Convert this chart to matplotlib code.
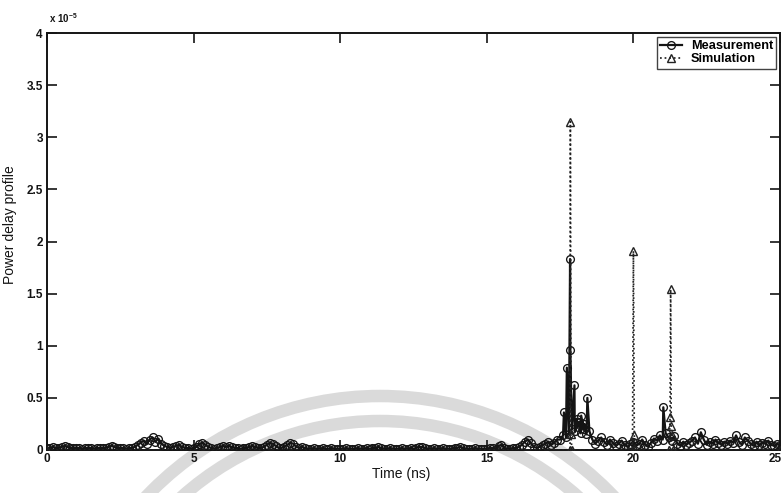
import numpy as np
import matplotlib
matplotlib.use("Agg")
import matplotlib.pyplot as plt
from matplotlib.patches import Arc
from matplotlib.transforms import ScaledTranslation

plt.rcParams['font.family'] = ['Liberation Sans', 'DejaVu Sans']
plt.rcParams['mathtext.default'] = 'regular'

# Measured power delay profile (units of 1e-5): background samples every 0.1 ns
grid_time = np.round(np.arange(0, 25.001, 0.1), 2)
grid_power = [
    0.02, 0.02, 0.03, 0.02, 0.02, 0.03, 0.04, 0.03, 0.02, 0.02,   # 0 ns
    0.02, 0.02, 0.01, 0.02, 0.02, 0.02, 0.01, 0.02, 0.02, 0.02,   # 1 ns
    0.02, 0.03, 0.04, 0.03, 0.02, 0.02, 0.02, 0.01, 0.02, 0.02,   # 2 ns
    0.03, 0.05, 0.07, 0.09, 0.06, 0.10, 0.12, 0.08, 0.11, 0.06,   # 3 ns
    0.04, 0.03, 0.02, 0.03, 0.04, 0.05, 0.03, 0.02, 0.02, 0.01,   # 4 ns
    0.02, 0.03, 0.06, 0.07, 0.05, 0.03, 0.02, 0.01, 0.02, 0.03,   # 5 ns
    0.04, 0.03, 0.04, 0.03, 0.02, 0.02, 0.01, 0.02, 0.02, 0.03,   # 6 ns
    0.04, 0.03, 0.02, 0.02, 0.03, 0.05, 0.07, 0.06, 0.04, 0.02,   # 7 ns
    0.02, 0.03, 0.05, 0.07, 0.06, 0.03, 0.02, 0.03, 0.02, 0.01,   # 8 ns
    0.01, 0.02, 0.01, 0.01, 0.02, 0.01, 0.01, 0.02, 0.01, 0.01,   # 9 ns
    0.01, 0.01, 0.02, 0.01, 0.01, 0.01, 0.02, 0.01, 0.01, 0.02,   # 10 ns
    0.01, 0.02, 0.02, 0.03, 0.02, 0.01, 0.01, 0.02, 0.01, 0.01,   # 11 ns
    0.01, 0.02, 0.01, 0.01, 0.02, 0.01, 0.02, 0.03, 0.03, 0.02,   # 12 ns
    0.01, 0.01, 0.02, 0.01, 0.01, 0.02, 0.01, 0.01, 0.01, 0.02,   # 13 ns
    0.02, 0.03, 0.02, 0.01, 0.01, 0.01, 0.02, 0.01, 0.01, 0.01,   # 14 ns
    0.01, 0.02, 0.02, 0.01, 0.04, 0.05, 0.02, 0.01, 0.01, 0.02,   # 15 ns
    0.02, 0.03, 0.05, 0.08, 0.10, 0.07, 0.03, 0.02, 0.03, 0.05,   # 16 ns
    0.06, 0.08, 0.05, 0.07, 0.10, 0.10, 0.14, 0.12, 0.15, 0.20,   # 17 ns
    0.18, 0.22, 0.16, 0.20, 0.15, 0.18, 0.10, 0.06, 0.09, 0.12,   # 18 ns
    0.08, 0.05, 0.10, 0.07, 0.04, 0.06, 0.09, 0.05, 0.03, 0.06,   # 19 ns
    0.08, 0.04, 0.06, 0.10, 0.05, 0.03, 0.07, 0.11, 0.09, 0.14,   # 20 ns
    0.10, 0.16, 0.12, 0.09, 0.13, 0.06, 0.04, 0.08, 0.05, 0.07,   # 21 ns
    0.09, 0.12, 0.06, 0.17, 0.10, 0.05, 0.08, 0.06, 0.10, 0.07,   # 22 ns
    0.05, 0.08, 0.06, 0.09, 0.07, 0.14, 0.08, 0.05, 0.12, 0.09,   # 23 ns
    0.06, 0.04, 0.08, 0.05, 0.07, 0.06, 0.09, 0.05, 0.04, 0.06,   # 24 ns
    0.05,                                                         # 25 ns
]

# Strong measured arrivals between the background samples (units of 1e-5)
peak_time = [17.63, 17.73, 17.84, 17.85, 17.99, 18.07, 18.15, 18.22, 18.33, 18.43, 21.02]
peak_power = [0.36, 0.79, 1.83, 0.96, 0.62, 0.30, 0.27, 0.33, 0.25, 0.50, 0.41]

# Simulated (ray-traced) arrivals, units of 1e-5
sim_time = [0.0, 17.84, 17.85, 17.87, 17.90, 19.97, 20.00, 20.03, 20.06,
            21.22, 21.25, 21.27, 21.29, 21.31, 21.34, 25.0]
sim_power = [0.0, 0.0, 3.15, 0.15, 0.0, 0.0, 1.91, 0.14, 0.0,
             0.0, 0.32, 1.54, 0.235, 0.14, 0.0, 0.0]

x_ticks = [0, 5, 10, 15, 20, 25]
y_ticks = [0, 0.5, 1, 1.5, 2, 2.5, 3, 3.5, 4]
y_tick_labels = ['0', '0.5', '1', '1.5', '2', '2.5', '3', '3.5', '4']

# merge background samples and strong arrivals in time order
meas_time = np.concatenate([grid_time, peak_time])
meas_power = np.concatenate([grid_power, peak_power])
order = np.argsort(meas_time, kind='stable')
meas_time, meas_power = meas_time[order], meas_power[order]

W, H = 782, 493
fig = plt.figure(figsize=(W / 100, H / 100), dpi=100)
fig.patch.set_facecolor('white')

# faint watermark arcs behind the plot
for r in (322, 297):
    arc = Arc((380, H - 718), 2 * r, 2 * r, theta1=0, theta2=180,
              transform=None, color='#dadada', lw=9, zorder=-5)
    fig.add_artist(arc)

left, right, top, bottom = 47, 780, 33, 450
ax = fig.add_axes([left / W, 1 - bottom / H, (right - left) / W, (bottom - top) / H])
ax.set_facecolor('none')

ink = '#141414'
ax.plot(meas_time, meas_power, '-', color=ink, lw=1.6, marker='o',
        markersize=5.6, fillstyle='none', markeredgewidth=0.95,
        label='Measurement', zorder=3)
ax.plot(sim_time, sim_power, ':', color='#222222', lw=1.25, marker='^',
        markersize=5.8, fillstyle='none', markeredgewidth=1.0,
        label='Simulation', zorder=4)

ax.set_xlim(0, 25)
ax.set_ylim(0, 4)
ax.set_xticks(x_ticks)
ax.set_yticks(y_ticks)
ax.set_yticklabels(y_tick_labels)

for s in ax.spines.values():
    s.set_linewidth(1.4)
    s.set_color(ink)
ax.tick_params(direction='in', length=7.5, width=1.2, color=ink,
               top=True, right=True, labelsize=8.5, labelcolor=ink)
ax.tick_params(axis='x', pad=2.5)
ax.tick_params(axis='y', pad=3)
for lab in ax.get_xticklabels() + ax.get_yticklabels():
    lab.set_fontweight('bold')
# the last x label sits at the figure edge; nudge it inward
last = ax.get_xticklabels()[-1]
last.set_transform(last.get_transform() + ScaledTranslation(-5 / 100, 0, fig.dpi_scale_trans))

ax.set_xlabel('Time (ns)', fontsize=10, color=ink)
ax.set_ylabel('Power delay profile', fontsize=10, color=ink)
ax.xaxis.set_label_coords(0.483, -0.04)
ax.yaxis.set_label_coords(-0.041, 0.54)

fig.text(49 / W, 1 - 18 / H, r'x 10$^{-5}$', fontsize=7, fontweight='bold',
         color=ink, ha='left', va='center')

leg = ax.legend(loc='upper right', bbox_to_anchor=(1.0, 1.0),
                prop={'weight': 'bold', 'size': 9.2}, frameon=True,
                fancybox=False, edgecolor=ink, borderpad=0.25,
                labelspacing=0.1, handlelength=1.7, handletextpad=0.7,
                borderaxespad=0.3)
leg.get_frame().set_linewidth(1.0)

fig.savefig('out.png', dpi=100, facecolor='white')
